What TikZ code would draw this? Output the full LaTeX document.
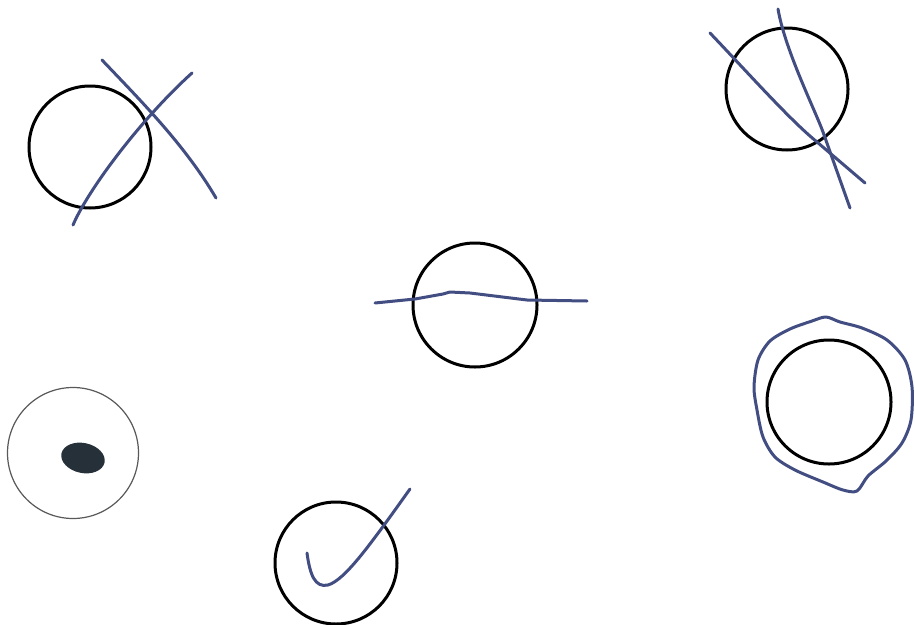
\documentclass[tikz,border=0pt]{standalone}
\begin{document}
\begin{tikzpicture}[x=1pt,y=-1pt,
  ring/.style={draw=black,line width=3pt},
  pen/.style={draw=penblue,line width=3pt,line cap=round,line join=round},
]
\definecolor{penblue}{HTML}{424D82}
\definecolor{blob}{HTML}{263038}
\useasboundingbox (0,0) rectangle (915,624);
% circle 1 with X
\node[ring,circle,minimum size=122pt,inner sep=0pt] (c1) at (90,147) {};
\draw[pen] (102,60) .. controls (140,100) and (185,145) .. (216,198);
\draw[pen] (73,225) .. controls (88,190) and (140,120) .. (192,73);
% circle 2 with crossing lines
\node[ring,circle,minimum size=122pt,inner sep=0pt] (c2) at (787,89) {};
\draw[pen] (710,33) .. controls (750,75) and (790,120) .. (817,142) -- (865,183);
\draw[pen] (778,9) .. controls (785,50) and (815,110) .. (823,132) -- (850,208);
% circle 3 with horizontal line
\node[ring,circle,minimum size=124pt,inner sep=0pt] (c3) at (475,305) {};
\draw[pen] (375,303) -- (415,299) -- (443,294) -- (450,292) -- (470,293) -- (527,300) -- (587,301);
% circle 4 thin with blob
\node[draw=black!65,line width=1.2pt,circle,minimum size=131pt,inner sep=0pt] (c4) at (73,453) {};
\fill[blob,rotate around={-12:(83,458)}] (83,458) ellipse [x radius=22pt,y radius=15pt];
% circle 5 with check
\node[ring,circle,minimum size=122pt,inner sep=0pt] (c5) at (336,563) {};
\draw[pen] (307,553) .. controls (310,575) and (315,588) .. (328,585) .. controls (345,580) and (370,545) .. (410,489);
% circle 6 with wobbly outline
\node[ring,circle,minimum size=124pt,inner sep=0pt] (c6) at (829,402) {};
\draw[pen] plot[smooth cycle,tension=0.5] coordinates {(826,317) (840,322) (862,328) (887,340) (905,360) (912,387) (911,420) (902,443) (886,461) (868,476) (857,491) (843,490) (823,482) (795,470) (775,457) (763,437) (757,410) (754,387) (758,360) (770,341) (790,329) (812,321)};
\end{tikzpicture}
\end{document}
